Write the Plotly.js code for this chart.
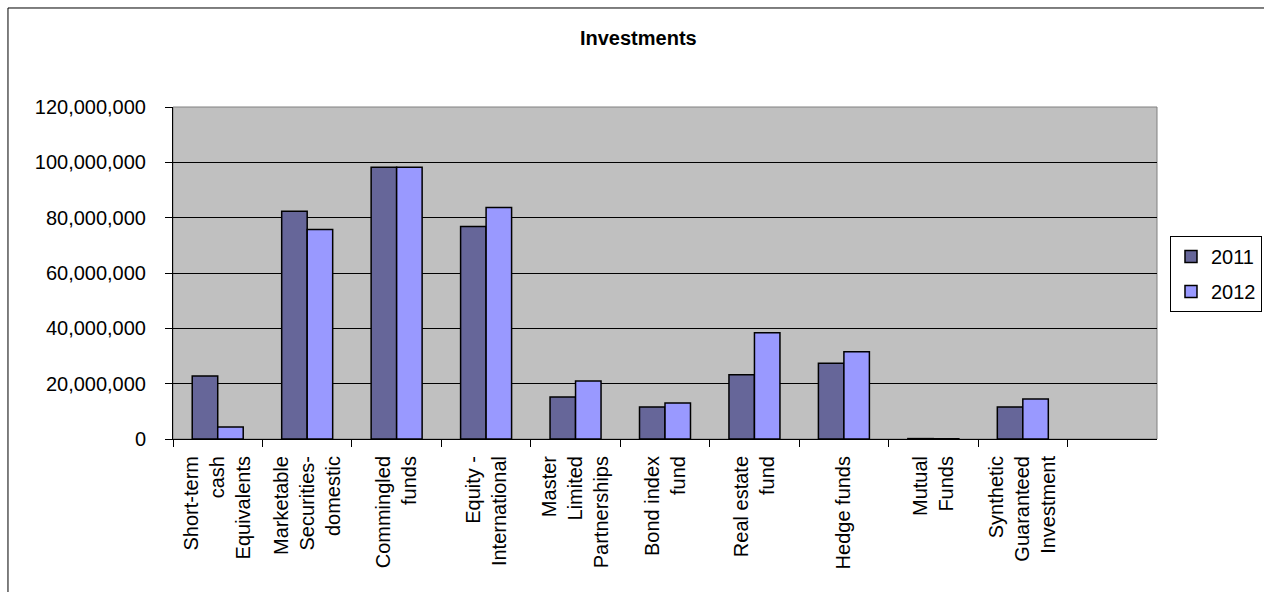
<!DOCTYPE html>
<html>
<head>
<meta charset="utf-8">
<script src="https://cdn.plot.ly/plotly-3.0.1.min.js"></script>
<style>
html,body{margin:0;padding:0;background:#fff;}
#chart{width:1264px;height:592px;}
</style>
</head>
<body>
<div id="chart"></div>
<script>
const categories = [
  "Short-term<br>cash<br>Equivalents",
  "Marketable<br>Securities-<br>domestic",
  "Commingled<br>funds",
  "Equity -<br>International",
  "Master<br>Limited<br>Partnerships",
  "Bond index<br>fund",
  "Real estate<br>fund",
  "Hedge funds",
  "Mutual<br>Funds",
  "Synthetic<br>Guaranteed<br>Investment"
];
const values2011 = [22800000, 82300000, 98200000, 76800000, 15200000, 11600000, 23200000, 27400000, 150000, 11600000];
const values2012 = [4300000, 75700000, 98200000, 83700000, 21000000, 13000000, 38400000, 31500000, 100000, 14500000];
const seriesNames = ["2011", "2012"];
const yTickVals = [0, 20000000, 40000000, 60000000, 80000000, 100000000, 120000000];

const font = {family: "Arial, 'Liberation Sans', sans-serif", size: 20, color: "#000"};

const traces = [
  {type: "bar", name: seriesNames[0], legendgroup: "a", x: categories, y: values2011,
   marker: {color: "#666699", line: {color: "#000", width: 1.5}}},
  {type: "bar", name: seriesNames[1], legendgroup: "b", x: categories, y: values2012,
   marker: {color: "#9999FF", line: {color: "#000", width: 1.5}}}
];

const layout = {
  width: 1264, height: 592,
  margin: {l: 173, r: 107, t: 107, b: 153, autoexpand: false},
  paper_bgcolor: "#fff",
  plot_bgcolor: "#C0C0C0",
  font: font,
  title: {text: "<b>Investments</b>", font: {family: font.family, size: 20, color: "#000"},
          xref: "container", x: 0.505, yref: "container", y: 0.935, yanchor: "middle"},
  barmode: "group",
  bargap: 0.43,
  bargroupgap: 0,
  showlegend: true,
  legend: {x: 1.0132, xanchor: "left", y: 0.497, yanchor: "middle",
           bordercolor: "#000", borderwidth: 1, bgcolor: "#fff",
           font: font, traceorder: "grouped", tracegroupgap: 6},
  xaxis: {type: "category", range: [-0.5, 10.5], tickangle: -90,
          showgrid: false, showline: true, linecolor: "#000", linewidth: 1,
          ticks: "outside", tickson: "boundaries", ticklen: 7, tickcolor: "#000",
          ticklabelstandoff: 8, tickfont: font, fixedrange: true},
  yaxis: {range: [0, 120000000], tickvals: yTickVals, tickformat: ",d",
          showgrid: true, gridcolor: "#000", gridwidth: 1,
          showline: true, linecolor: "#000", linewidth: 1,
          ticks: "outside", ticklen: 7, tickcolor: "#000",
          ticklabelstandoff: 15, tickfont: font, zeroline: false, fixedrange: true},
  shapes: [
    {type: "rect", xref: "paper", yref: "paper", x0: 0, x1: 1, y0: 0, y1: 1,
     line: {color: "#808080", width: 1}, layer: "below"},
    {type: "rect", xref: "paper", yref: "paper", x0: -0.1677, x1: 1.2, y0: -1, y1: 1.2982,
     line: {color: "#000", width: 1}, fillcolor: "rgba(0,0,0,0)"}
  ]
};

Plotly.newPlot("chart", traces, layout, {staticPlot: true, displayModeBar: false});
</script>
</body>
</html>
